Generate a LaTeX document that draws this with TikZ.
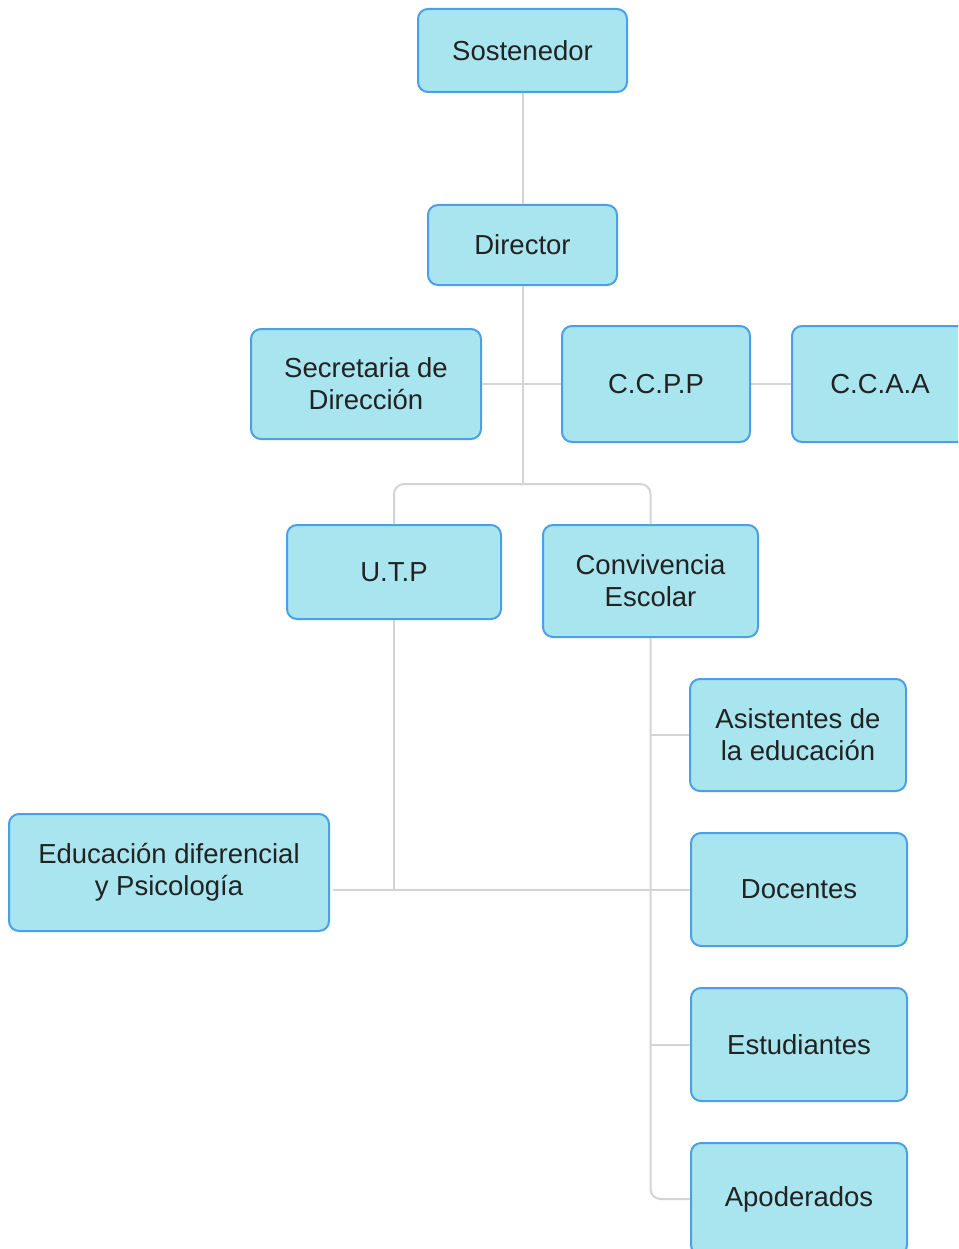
\documentclass[tikz,border=0pt]{standalone}
\usepackage{fontspec}
\setmainfont{Liberation Sans}
\definecolor{boxfill}{HTML}{A9E5EE}
\definecolor{boxline}{HTML}{4A9FE6}
\definecolor{conn}{HTML}{D4D4D4}
\definecolor{txt}{HTML}{222222}
\tikzset{
  orgbox/.style={draw=boxline, fill=boxfill, line width=2pt, rounded corners=10pt,
    align=center, text=txt, inner sep=0pt,
    font=\fontsize{27.5}{32}\selectfont},
  link/.style={draw=conn, line width=2pt}
}
\begin{document}
\begin{tikzpicture}[x=1pt,y=-1pt]
\useasboundingbox (0,0) rectangle (958,1249);
\clip (0,0) rectangle (958,1249);
\fill[white] (0,0) rectangle (958,1249);
% nodes
\node[orgbox, minimum width=209pt, minimum height=83pt] (sost) at (522.5,50.5) {Sostenedor};
\node[orgbox, minimum width=189pt, minimum height=80pt] (dir) at (522.5,245) {Director};
\node[orgbox, minimum width=230pt, minimum height=110pt] (sec) at (366,384) {Secretaria de\\Dirección};
\node[orgbox, minimum width=188pt, minimum height=116pt] (ccpp) at (656,384) {C.C.P.P};
\node[orgbox, minimum width=176pt, minimum height=116pt] (ccaa) at (880,384) {C.C.A.A};
\node[orgbox, minimum width=214pt, minimum height=94pt] (utp) at (394,572) {U.T.P};
\node[orgbox, minimum width=215pt, minimum height=112pt] (conv) at (650.5,581) {Convivencia\\Escolar};
\node[orgbox, minimum width=216pt, minimum height=112pt] (asis) at (798,735) {Asistentes de\\la educación};
\node[orgbox, minimum width=216pt, minimum height=113pt] (doc) at (799,889.5) {Docentes};
\node[orgbox, minimum width=216pt, minimum height=113pt] (est) at (799,1044.5) {Estudiantes};
\node[orgbox, minimum width=216pt, minimum height=112pt] (apod) at (799,1199) {Apoderados};
\node[orgbox, minimum width=320pt, minimum height=117pt] (edu) at (169,872.5) {Educación diferencial\\y Psicología};
% connectors
\coordinate (br) at (522.5,484);
\draw[link] (sost.south) -- (dir.north);
\draw[link] (dir.south) -- (br);
\draw[link] (sec.east) -- (ccpp.west);
\draw[link] (ccpp.east) -- (ccaa.west);
\draw[link, rounded corners=10pt] (utp.north) |- (conv.north |- br) -- (conv.north);
\draw[link] (utp.south) -- (utp.south |- doc.west);
\draw[link] ([xshift=3pt]edu.east |- doc.west) -- (doc.west);
\draw[link, rounded corners=10pt] (conv.south) |- (apod.west);
\draw[link] (conv.south |- asis.west) -- (asis.west);
\draw[link] (conv.south |- est.west) -- (est.west);
\end{tikzpicture}
\end{document}
